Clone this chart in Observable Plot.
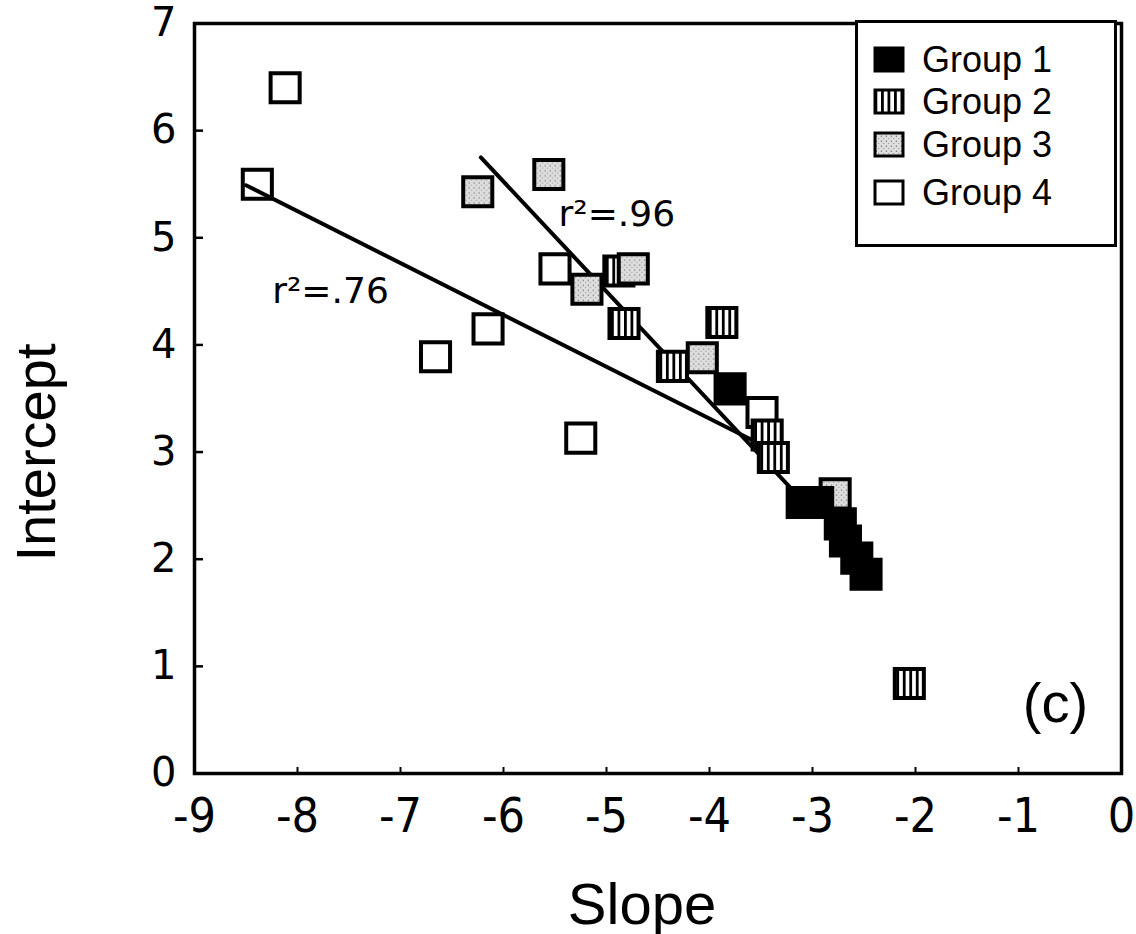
<!DOCTYPE html>
<html>
<head>
<meta charset="utf-8">
<script src="https://cdn.jsdelivr.net/npm/d3@7"></script>
<script src="https://cdn.jsdelivr.net/npm/@observablehq/plot@0.6"></script>
<style>
  body { margin: 0; background: #fff; }
  #wrap { position: relative; width: 1136px; height: 934px; }
  #legend { position: absolute; left: 855px; top: 20px; }
</style>
</head>
<body>
<div id="wrap"><div id="chart"></div><div id="legend"></div></div>
<script>
// ---- data ----
const groupNames = ["Group 1", "Group 2", "Group 3", "Group 4"];

const group1Slope     = [-3.80, -3.10, -2.95, -2.73, -2.68, -2.57, -2.48];
const group1Intercept = [ 3.59,  2.53,  2.53,  2.33,  2.17,  2.01,  1.86];

const group2Slope     = [-4.88, -4.83, -3.88, -4.36, -3.44, -3.38, -2.06];
const group2Intercept = [ 4.69,  4.20,  4.21,  3.80,  3.16,  2.95,  0.84];

const group3Slope     = [-6.25, -5.56, -5.19, -4.74, -4.07, -2.78];
const group3Intercept = [ 5.43,  5.59,  4.52,  4.71,  3.88,  2.61];

const group4Slope     = [-8.12, -8.39, -6.66, -6.15, -5.25, -5.50, -3.49];
const group4Intercept = [ 6.40,  5.50,  3.89,  4.15,  3.13,  4.71,  3.37];

// regression lines (end points)
const fit76Slope = [-8.50, -3.50];
const fit76Intercept = [5.49, 3.07];
const fit96Slope = [-6.22, -3.12];
const fit96Intercept = [5.75, 2.57];

const annotLabels = ["r²=.76", "r²=.96"];
const annotSlope = [-7.68, -4.90];
const annotIntercept = [4.50, 5.22];

const panelLabel = "(c)";
const xTicks = [-9, -8, -7, -6, -5, -4, -3, -2, -1, 0];
const yTicks = [0, 1, 2, 3, 4, 5, 6, 7];
const xLabel = "Slope";
const yLabel = "Intercept";

// ---- build tables ----
const pts = (xs, ys) => xs.map((x, i) => ({x, y: ys[i]}));
const g1 = pts(group1Slope, group1Intercept);
const g2 = pts(group2Slope, group2Intercept);
const g3 = pts(group3Slope, group3Intercept);
const g4 = pts(group4Slope, group4Intercept);
const fit76 = pts(fit76Slope, fit76Intercept);
const fit96 = pts(fit96Slope, fit96Intercept);
const annots = annotLabels.map((t, i) => ({t, x: annotSlope[i], y: annotIntercept[i]}));

const groupFills = ["#000", "url(#stripes)", "url(#stipple)", "#fff"];

const R = 16.4;
const sq = (data, fill) => Plot.dot(data, {x: "x", y: "y", symbol: "square", r: R, fill, stroke: "#000", strokeWidth: 4});

const tickFont = "'Liberation Sans Narrow', 'DejaVu Sans Condensed', 'Liberation Sans', sans-serif";
const yTickFont = "'DejaVu Sans', sans-serif";
const labelFont = "'Liberation Sans', Arial, sans-serif";

const chart = Plot.plot({
  width: 1136,
  height: 934,
  marginLeft: 194,
  marginRight: 15,
  marginTop: 23,
  marginBottom: 161,
  style: {background: "#fff", color: "#000"},
  x: {domain: [-9, 0]},
  y: {domain: [0, 7]},
  marks: [
    Plot.axisX(xTicks, {tickSize: -6, tickPadding: 30, strokeWidth: 2, fontSize: 48, fontFamily: tickFont, tickFormat: d => String(d), label: null}),
    Plot.axisY(yTicks, {tickSize: -9, tickPadding: 27, strokeWidth: 2.5, fontSize: 40, fontFamily: yTickFont, tickFormat: d => String(d), label: null}),
    sq(g4, groupFills[3]),
    Plot.line(fit76, {x: "x", y: "y", stroke: "#000", strokeWidth: 4}),
    Plot.line(fit96, {x: "x", y: "y", stroke: "#000", strokeWidth: 4}),
    sq(g2, groupFills[1]),
    sq(g3, groupFills[2]),
    sq(g1, groupFills[0]),
    Plot.text(annots, {x: "x", y: "y", text: "t", fontSize: 36, fontFamily: yTickFont, fill: "#000"}),
    Plot.text([panelLabel], {frameAnchor: "bottom-right", dx: -66, dy: -52, textAnchor: "middle", fontSize: 56, fontFamily: labelFont, fill: "#000"}),
    Plot.text([xLabel], {frameAnchor: "bottom", dx: -16, dy: 150, textAnchor: "middle", fontSize: 58, fontFamily: labelFont, fill: "#000"}),
    Plot.text([yLabel], {frameAnchor: "left", dx: -157, dy: 54, rotate: -90, textAnchor: "middle", lineAnchor: "middle", fontSize: 56, fontFamily: labelFont, fill: "#000"}),
    Plot.frame({stroke: "#000", strokeWidth: 3.5})
  ]
});

// patterns for the hatched / stippled fills
const svgSel = d3.select(chart);
const defs = svgSel.insert("defs", ":first-child");
const stripes = defs.append("pattern").attr("id", "stripes").attr("patternUnits", "userSpaceOnUse").attr("width", 6.5).attr("height", 6.5);
stripes.append("rect").attr("width", 6.5).attr("height", 6.5).attr("fill", "#fff");
stripes.append("rect").attr("width", 2.8).attr("height", 6.5).attr("fill", "#000");
const stip = defs.append("pattern").attr("id", "stipple").attr("patternUnits", "userSpaceOnUse").attr("width", 5).attr("height", 5);
stip.append("rect").attr("width", 5).attr("height", 5).attr("fill", "#dedede");
stip.append("rect").attr("x", 0.8).attr("y", 0.6).attr("width", 1.2).attr("height", 1.2).attr("fill", "#6a6a6a");
stip.append("rect").attr("x", 3.2).attr("y", 3.0).attr("width", 1.0).attr("height", 1.0).attr("fill", "#8a8a8a");

document.getElementById("chart").appendChild(chart);

// legend (top-right box)
const legW = 262, legH = 227;
const leg = d3.select("#legend").append("svg").attr("width", legW).attr("height", legH);
leg.append("rect").attr("x", 1.5).attr("y", 1.5).attr("width", legW - 3).attr("height", legH - 3)
  .attr("fill", "#fff").attr("stroke", "#000").attr("stroke-width", 3);
const rowY = [39, 81, 124, 172];
groupNames.forEach((name, i) => {
  leg.append("rect").attr("x", 20).attr("y", rowY[i] - 11).attr("width", 28).attr("height", 23)
    .attr("fill", groupFills[i]).attr("stroke", "#000").attr("stroke-width", 3);
  leg.append("text").attr("x", 67).attr("y", rowY[i]).attr("dy", "0.36em")
    .attr("font-family", labelFont).attr("font-size", 36).attr("fill", "#000").text(name);
});
</script>
</body>
</html>
